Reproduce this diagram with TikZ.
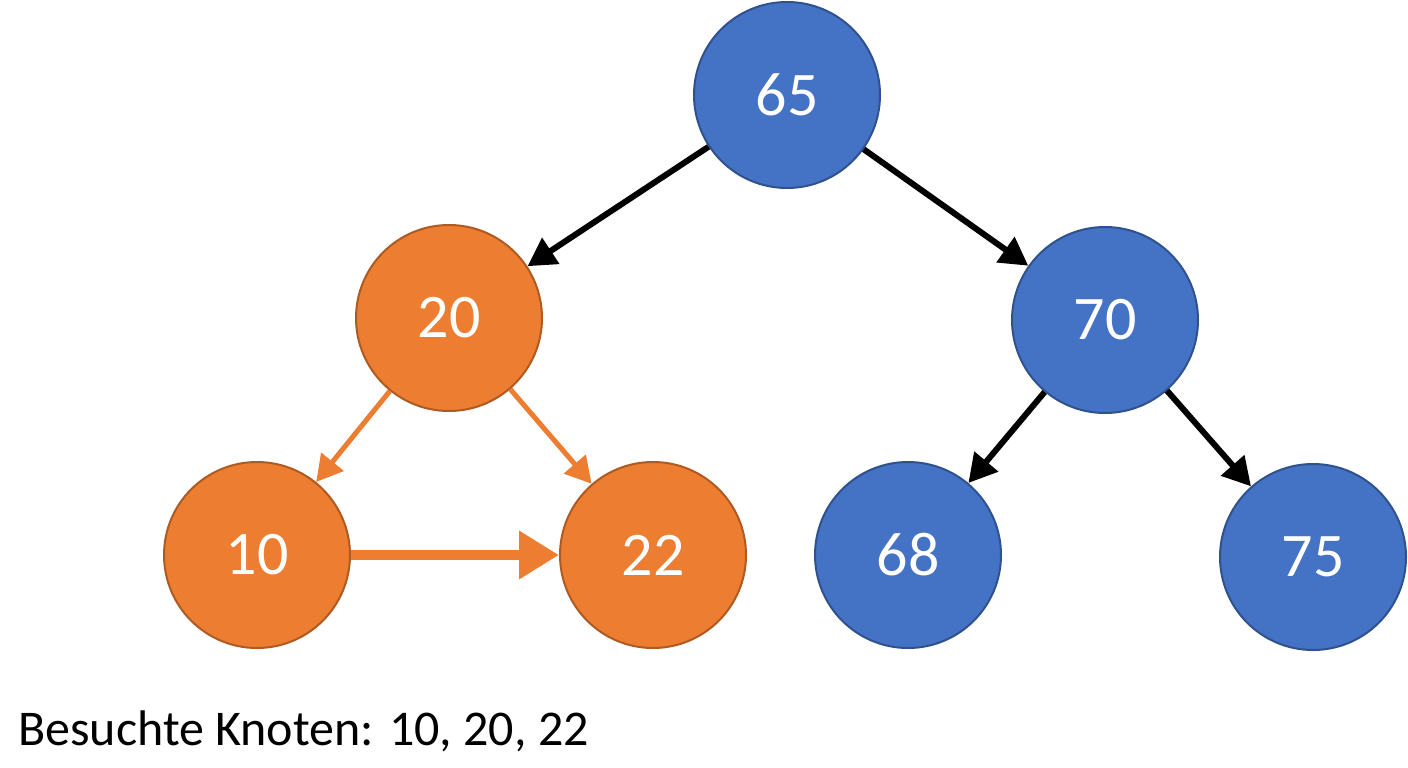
\documentclass[tikz,border=0pt]{standalone}
\usepackage{fontspec}
\setmainfont{Carlito}
\usetikzlibrary{arrows.meta}
\definecolor{kblue}{HTML}{4472C4}
\definecolor{kblueline}{HTML}{2F528F}
\definecolor{korange}{HTML}{ED7D31}
\definecolor{korangeline}{HTML}{AE5A21}
\tikzset{
  knot/.style={circle, minimum size=186pt, inner sep=0pt, line width=2pt, text=white, font=\fontsize{62}{62}\selectfont},
  bknot/.style={knot, fill=kblue, draw=kblueline},
  oknot/.style={knot, fill=korange, draw=korangeline},
  bedge/.style={line width=6pt, -{Triangle[length=28pt,width=30pt]}},
  oedge/.style={korange, line width=5pt, -{Triangle[length=26pt,width=28pt]}}
}
\begin{document}
\begin{tikzpicture}[x=1pt,y=-1pt]
\useasboundingbox (0,0) rectangle (1408,768);
\node[bknot] (k65) at (787,95) {65};
\node[oknot] (k20) at (449,318) {20};
\node[bknot] (k70) at (1105,320) {70};
\node[oknot] (k10) at (257,555) {10};
\node[oknot] (k22) at (653,555) {22};
\node[bknot] (k68) at (908,555) {68};
\node[bknot] (k75) at (1313,557) {75};

\draw[bedge] (k65) -- (k20);
\draw[bedge] (k65) -- (k70);
\draw[bedge] (k70) -- (k68);
\draw[bedge] (k70) -- (k75);
\draw[oedge] (k20) -- (k10);
\draw[oedge] (k20) -- (k22);
\draw[oedge, line width=10pt, -{Triangle[length=40pt,width=46pt]}] (k10) -- (k22);

\node[anchor=base west, inner sep=0pt, font=\fontsize{50}{50}\selectfont] (besucht) at (18,745) {Besuchte Knoten: 10, 20, 22};
\end{tikzpicture}
\end{document}
